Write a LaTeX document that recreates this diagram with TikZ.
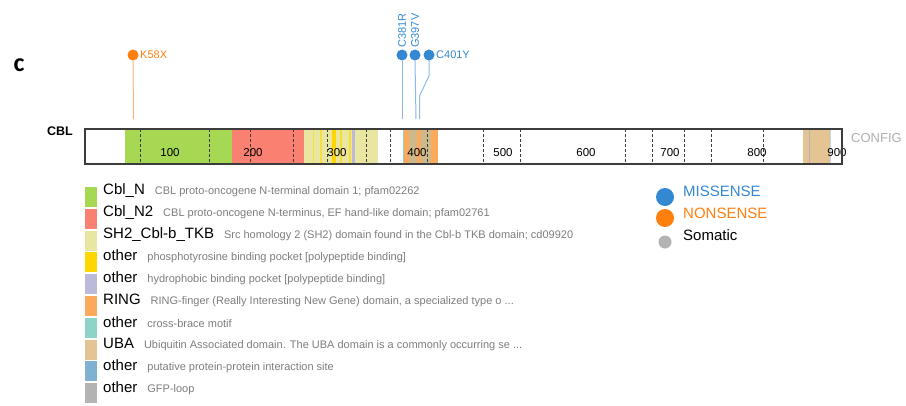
\documentclass[tikz,border=0pt]{standalone}
\usepackage{fontspec}
\setmainfont{Liberation Sans}
\newfontfamily\calibfont{Carlito}
\definecolor{cbln}{RGB}{166,216,84}
\definecolor{cblntwo}{RGB}{250,128,114}
\definecolor{shtwo}{RGB}{232,230,160}
\definecolor{phos}{RGB}{255,215,0}
\definecolor{hydro}{RGB}{188,186,218}
\definecolor{ring}{RGB}{250,170,90}
\definecolor{cross}{RGB}{141,211,199}
\definecolor{uba}{RGB}{229,196,148}
\definecolor{ppi}{RGB}{128,177,211}
\definecolor{gfp}{RGB}{179,179,179}
\definecolor{miss}{RGB}{52,136,210}
\definecolor{nons}{RGB}{255,127,14}
\definecolor{stemb}{RGB}{140,185,230}
\definecolor{stemo}{RGB}{250,180,120}
\definecolor{desctext}{RGB}{125,125,125}
\definecolor{barline}{RGB}{60,60,60}
\definecolor{configgray}{RGB}{175,175,175}
\definecolor{tanmix}{RGB}{205,185,140}
\newcommand{\namefont}{\fontsize{15}{17}\selectfont\color{black}}
\newcommand{\descfont}{\fontsize{11}{13}\selectfont\color{desctext}}
\begin{document}
\begin{tikzpicture}[x=1pt,y=-1pt,
  legsq/.style={minimum width=12pt,minimum height=20pt,inner sep=0pt,draw=none},
  legtxt/.style={anchor=west,inner sep=0pt},
  mutdot/.style={circle,inner sep=0pt,minimum size=11pt,draw=none},
  lab/.style={inner sep=0pt,font=\fontsize{11}{13}\selectfont},
  stemblue/.style={draw=stemb,line width=1pt},
  stemorange/.style={draw=stemo,line width=1pt},
  tickline/.style={draw=barline,dashed,dash pattern=on 3pt off 2pt,line width=0.9pt},
  numlab/.style={inner sep=0pt,font=\fontsize{11.5}{13}\selectfont,text=black}]
\useasboundingbox (0,0) rectangle (906,405);
% panel letter
\node[inner sep=0pt] (panel) at (19,65) {\calibfont\bfseries\fontsize{26}{28}\selectfont c};
% protein label
\node[inner sep=0pt,font=\bfseries\fontsize{12.5}{14}\selectfont] (cbl) at (60,131) {CBL};
\node[inner sep=0pt,anchor=west,text=configgray,font=\fontsize{13}{15}\selectfont] (config) at (851,138) {CONFIG};
% domains
\fill[cbln] (125,129) rectangle (232,164);
\fill[cblntwo] (232,129) rectangle (304,164);
\fill[shtwo] (304,129) rectangle (378,164);
\fill[phos!60!shtwo] (312.5,129) rectangle (314,164);
\fill[phos!60!shtwo] (320,129) rectangle (321.5,164);
\fill[phos] (332,129) rectangle (336,164);
\fill[phos!70!shtwo] (340,129) rectangle (341.5,164);
\fill[phos!70!shtwo] (349,129) rectangle (350.5,164);
\fill[hydro] (352,129) rectangle (355,164);
\fill[cross] (402.5,129) rectangle (404,164);
\fill[ring] (404,129) rectangle (438,164);
\fill[tanmix] (409,129) rectangle (417,164);
\fill[tanmix] (421,129) rectangle (431,164);
\fill[uba] (803,129) rectangle (830,164);
\fill[gfp] (808.5,129) rectangle (810,164);
\fill[ppi!50!white] (830,129) rectangle (831,164);
% dashed ticks
\foreach \t in {140,209,250,293,327,366,390,427,483,520,625,652,684,711,763}
  \draw[tickline] (\t,129) -- (\t,164);
% numbers
\foreach \p/\v in {170/100,253/200,337/300,417/400,503/500,586/600,670/700,757/800,837/900}
  \node[numlab] at (\p,153) {\v};
% bar outline
\draw[barline,line width=1.1pt] (85,129) rectangle (842,164);
% mutations
\node[mutdot,fill=nons] (k58) at (133,55) {};
\node[lab,anchor=west,text=nons] (k58l) at (140,55) {K58X};
\coordinate (k58b) at (133.5,119);
\draw[stemorange] (k58.south) -- (k58b);
\node[mutdot,fill=miss] (c381) at (402,55) {};
\node[lab,anchor=west,rotate=90,text=miss] (c381l) at (402,48) {C381R};
\coordinate (c381b) at (402,119);
\draw[stemblue] (c381.south) -- (c381b);
\node[mutdot,fill=miss] (g397) at (415,55) {};
\node[lab,anchor=west,rotate=90,text=miss] (g397l) at (415,48) {G397V};
\coordinate (g397b) at (416,119);
\draw[stemblue] (g397.south) -- (g397b);
\node[mutdot,fill=miss] (c401) at (429,55) {};
\node[lab,anchor=west,text=miss] (c401l) at (436,55) {C401Y};
\coordinate (c401k1) at (429,76);
\coordinate (c401k2) at (419.5,96);
\coordinate (c401b) at (419.5,119);
\draw[stemblue] (c401.south) -- (c401k1) -- (c401k2) -- (c401b);
% legend
\node[legsq,fill=cbln] (sq0) at (91,197) {};
\node[legtxt] (lg0) at (103,191) {\namefont Cbl\_N\hspace{10pt}\descfont CBL proto-oncogene N-terminal domain 1; pfam02262};
\node[legsq,fill=cblntwo] (sq1) at (91,218.8) {};
\node[legtxt] (lg1) at (103,212.9) {\namefont Cbl\_N2\hspace{10pt}\descfont CBL proto-oncogene N-terminus, EF hand-like domain; pfam02761};
\node[legsq,fill=shtwo] (sq2) at (91,240.6) {};
\node[legtxt] (lg2) at (103,234.8) {\namefont SH2\_Cbl-b\_TKB\hspace{10pt}\descfont Src homology 2 (SH2) domain found in the Cbl-b TKB domain; cd09920};
\node[legsq,fill=phos] (sq3) at (91,262.4) {};
\node[legtxt] (lg3) at (103,256.7) {\namefont other\hspace{10pt}\descfont phosphotyrosine binding pocket [polypeptide binding]};
\node[legsq,fill=hydro] (sq4) at (91,284.2) {};
\node[legtxt] (lg4) at (103,278.6) {\namefont other\hspace{10pt}\descfont hydrophobic binding pocket [polypeptide binding]};
\node[legsq,fill=ring] (sq5) at (91,306) {};
\node[legtxt] (lg5) at (103,300.5) {\namefont RING\hspace{10pt}\descfont RING-finger (Really Interesting New Gene) domain, a specialized type o ...};
\node[legsq,fill=cross] (sq6) at (91,327.8) {};
\node[legtxt] (lg6) at (103,322.4) {\namefont other\hspace{10pt}\descfont cross-brace motif};
\node[legsq,fill=uba] (sq7) at (91,349.6) {};
\node[legtxt] (lg7) at (103,344.3) {\namefont UBA\hspace{10pt}\descfont Ubiquitin Associated domain. The UBA domain is a commonly occurring se ...};
\node[legsq,fill=ppi] (sq8) at (91,371.4) {};
\node[legtxt] (lg8) at (103,366.2) {\namefont other\hspace{10pt}\descfont putative protein-protein interaction site};
\node[legsq,fill=gfp] (sq9) at (91,393.2) {};
\node[legtxt] (lg9) at (103,388.1) {\namefont other\hspace{10pt}\descfont GFP-loop};
% mutation legend
\node[circle,inner sep=0pt,minimum size=18pt,fill=miss] (lmiss) at (665,197) {};
\node[circle,inner sep=0pt,minimum size=18pt,fill=nons] (lnons) at (665,218) {};
\node[circle,inner sep=0pt,minimum size=13pt,fill=gfp] (lsom) at (665,242) {};
\node[legtxt,text=miss,font=\fontsize{15}{17}\selectfont] (tmiss) at (683,191) {MISSENSE};
\node[legtxt,text=nons,font=\fontsize{15}{17}\selectfont] (tnons) at (683,213) {NONSENSE};
\node[legtxt,text=black,font=\fontsize{15}{17}\selectfont] (tsom) at (683,235.5) {Somatic};
\end{tikzpicture}
\end{document}
